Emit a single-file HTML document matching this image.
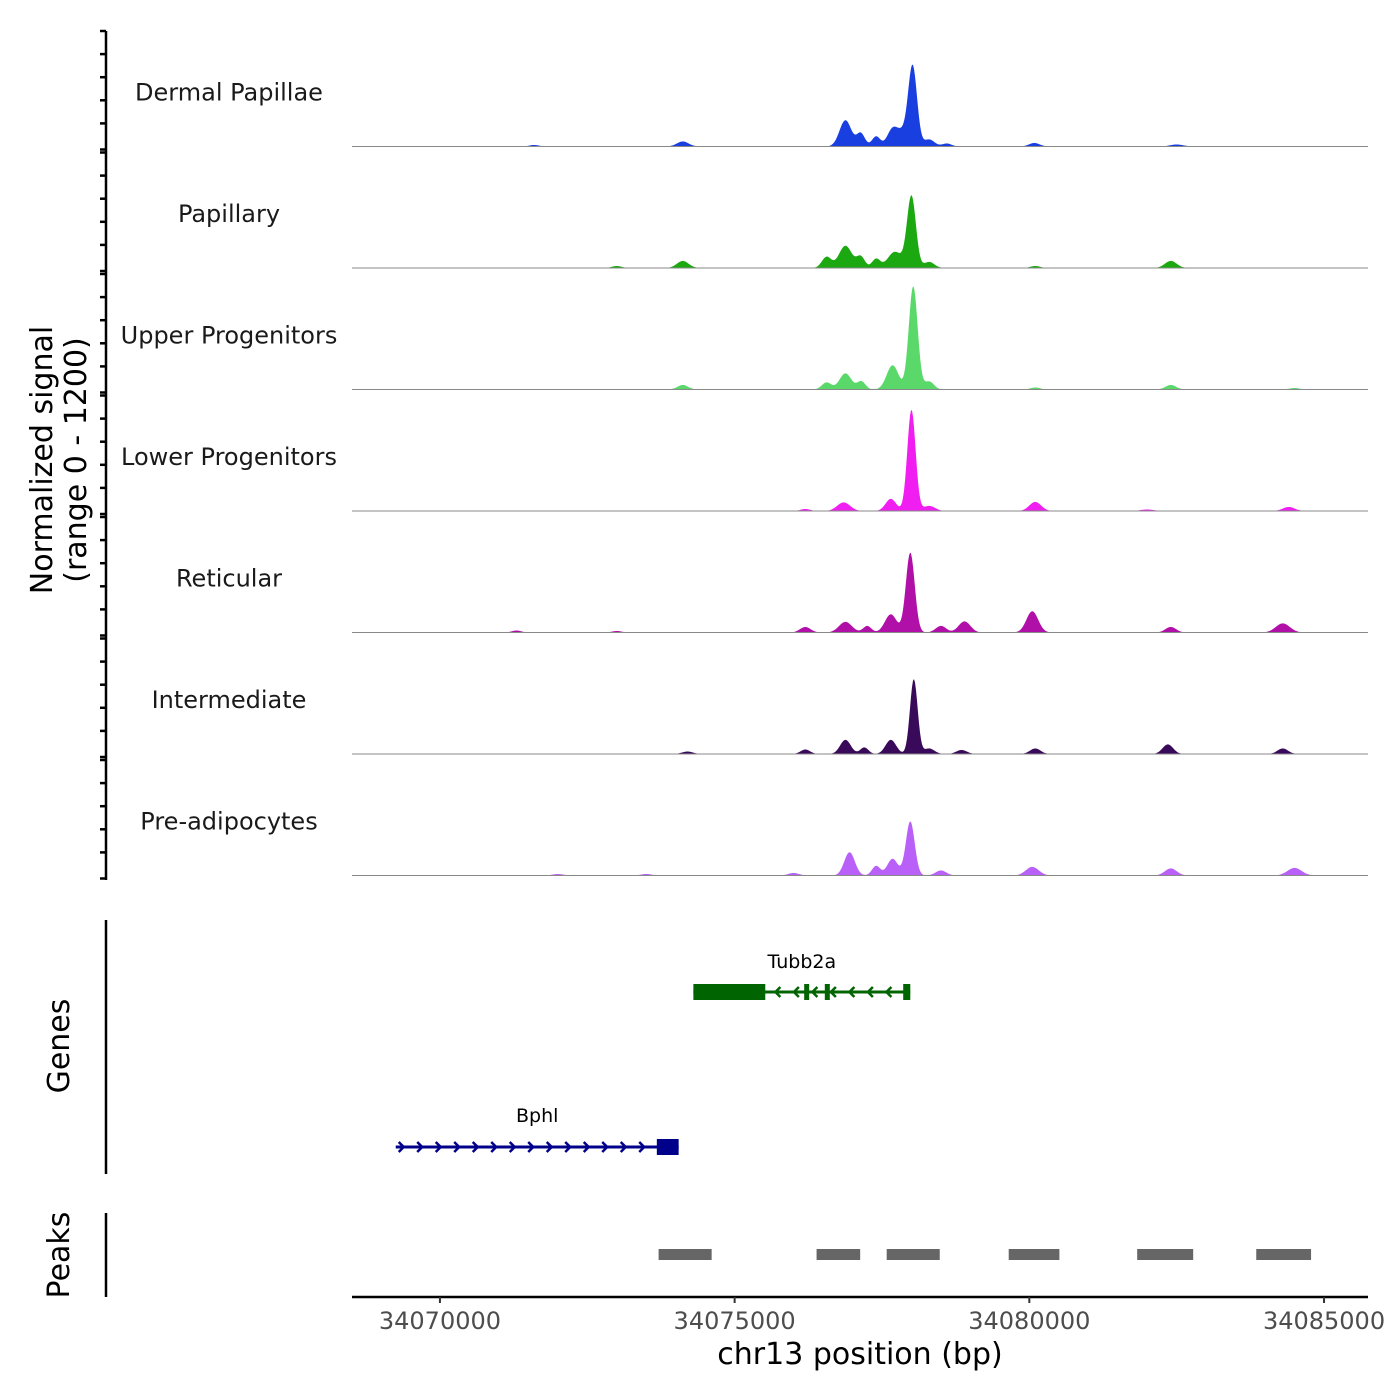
<!DOCTYPE html>
<html><head><meta charset="utf-8"><style>
body{margin:0;background:#fff}
svg{display:block;font-family:"DejaVu Sans","Liberation Sans",sans-serif}
</style></head><body>
<svg id="c" width="1400" height="1400" viewBox="0 0 1400 1400">
<g id="tracks"></g>
<g id="yaxis"></g>
<text x="52" y="460" transform="rotate(-90 52 460)" text-anchor="middle" font-size="30" fill="#000">Normalized signal</text>
<text x="86" y="460" transform="rotate(-90 86 460)" text-anchor="middle" font-size="30" fill="#000">(range 0 - 1200)</text>
<line x1="106" y1="920" x2="106" y2="1174" stroke="#000" stroke-width="2.5"/>
<text x="69" y="1046" transform="rotate(-90 69 1046)" text-anchor="middle" font-size="30">Genes</text>
<g id="genes"></g>
<line x1="106" y1="1213" x2="106" y2="1297" stroke="#000" stroke-width="2.5"/>
<text x="69" y="1255" transform="rotate(-90 69 1255)" text-anchor="middle" font-size="30">Peaks</text>
<g id="peaks"></g>
<g id="xaxis"></g>
<text x="860" y="1364" text-anchor="middle" font-size="30">chr13 position (bp)</text>
</svg>
<script>
const trackNames=["Dermal Papillae","Papillary","Upper Progenitors","Lower Progenitors","Reticular","Intermediate","Pre-adipocytes"];
const trackColors=["#1a3fe0","#1ca810","#5ad86a","#f01ef0","#b010a8","#3a0a5a","#b860f8"];
// peaks per track: [position bp, signal height, sigma bp]
const peaksDermal=[[34078020,790,75],[34076880,260,100],[34077140,130,70],[34077400,100,70],[34077680,170,90],[34077850,120,90],[34074120,50,100],[34078300,70,90],[34078600,30,80],[34080085,35,90],[34071600,15,80],[34082500,20,110]];
const peaksPapillary=[[34078000,710,75],[34076880,220,110],[34076560,110,80],[34077140,110,70],[34077400,90,70],[34077720,160,120],[34078300,60,90],[34074120,70,100],[34082400,70,100],[34073000,20,80],[34080100,20,80]];
const peaksUpper=[[34078030,1020,75],[34077680,240,100],[34076880,160,100],[34076560,70,80],[34077150,80,70],[34078300,80,80],[34074120,45,90],[34082400,45,90],[34080100,20,80],[34084500,15,80]];
const peaksLower=[[34078000,1000,70],[34076850,85,110],[34077650,120,90],[34078300,50,100],[34080100,90,100],[34084400,40,100],[34076200,20,80],[34082000,15,110]];
const peaksReticular=[[34077980,790,75],[34076880,105,110],[34076200,55,90],[34077650,180,100],[34077250,65,70],[34078500,65,90],[34078900,110,100],[34080050,210,100],[34082400,55,90],[34084300,90,120],[34071300,20,80],[34073000,15,80]];
const peaksIntermediate=[[34078040,740,65],[34076880,140,90],[34077650,140,90],[34076200,45,80],[34077200,65,70],[34078300,55,90],[34078850,40,90],[34080100,55,90],[34082350,95,90],[34084300,55,90],[34074200,25,90]];
const peaksPreadip=[[34077980,535,75],[34076950,230,90],[34077400,95,70],[34077680,165,90],[34078500,50,90],[34080050,85,110],[34082400,70,100],[34084500,75,120],[34072000,15,90],[34073500,15,90],[34076000,25,90]];
const trackPeaks=[peaksDermal,peaksPapillary,peaksUpper,peaksLower,peaksReticular,peaksIntermediate,peaksPreadip];
const xTicks=[34070000,34075000,34080000,34085000];
const genes=[{name:"Tubb2a",start:34074300,end:34077980,strand:-1,row:0,exons:[[34074300,34075520],[34076180,34076250],[34076530,34076610],[34077860,34077980]]},
 {name:"Bphl",start:34069250,end:34074050,strand:1,row:1,exons:[[34073680,34074050]]}];
const peakRegions=[[34073710,34074610],[34076390,34077130],[34077580,34078480],[34079650,34080510],[34081830,34082780],[34083850,34084780]];

const NS="http://www.w3.org/2000/svg";
const X0=352,X1=1368,BP0=34068508,BP1=34085746;
const xs=bp=>X0+(bp-BP0)/(BP1-BP0)*(X1-X0);
const TH=121.5,TOP=25;
const ys=(i,v)=>TOP+TH*(i+1)-v/1200*TH;
function mk(tag,attrs,parent){const e=document.createElementNS(NS,tag);for(const k in attrs)e.setAttribute(k,attrs[k]);parent.appendChild(e);return e;}
const tracks=document.getElementById('tracks');
trackNames.forEach((name,i)=>{
  const g=mk('g',{},tracks);
  
  
  let d='M'+X0+' '+ys(i,0);
  for(let px=X0;px<=X1;px+=1){
    const bp=BP0+(px-X0)/(X1-X0)*(BP1-BP0);
    let v=0;trackPeaks[i].forEach(p=>{v+=p[1]*Math.exp(-0.5*Math.pow((bp-p[0])/p[2],2));});
    d+=' L'+px+' '+ys(i,v).toFixed(2);
  }
  d+=' L'+X1+' '+ys(i,0)+' Z';
  const a=mk('path',{d:d,fill:trackColors[i]},g);
  
  
  const bl=mk('line',{x1:X0,x2:X1,y1:ys(i,0),y2:ys(i,0),stroke:'#888','stroke-width':1},g);
  
  
  const t=mk('text',{x:229,y:ys(i,0)-46,'text-anchor':'middle','font-size':24,fill:'#1a1a1a'},g);
  t.textContent=name;
  
  
});
const ya=document.getElementById('yaxis');
mk('line',{x1:106,x2:106,y1:31,y2:880,stroke:'#000','stroke-width':2.5},ya);
for(let i=0;i<7;i++){for(let k=0;k<=5;k++){
  const y=TOP+6+i*TH+k*((TH-6)/5)+(k==5?3:0);
  const tk=mk('line',{x1:100,x2:106,y1:y,y2:y,stroke:'#000','stroke-width':2.5},ya);
  
  }}
const gg=document.getElementById('genes');
const rowY=[992,1147],labY=[968,1122],col={"-1":"#006400","1":"#00008b"};
genes.forEach(gn=>{
  const y=rowY[gn.row],c=col[gn.strand];
  const g=mk('g',{},gg);
  
  
  mk('line',{x1:xs(gn.start),x2:xs(gn.end),y1:y,y2:y,stroke:c,'stroke-width':3},g);
  for(let p=xs(gn.start)+8;p<xs(gn.end)-8;p+=18.5){
    const s=gn.strand*5;
    mk('polyline',{points:(p-s)+','+(y-5)+' '+p+','+y+' '+(p-s)+','+(y+5),fill:'none',stroke:c,'stroke-width':2.5},g);
  }
  gn.exons.forEach(e=>{const r=mk('rect',{x:xs(e[0]),y:y-8,width:Math.max(5,xs(e[1])-xs(e[0])),height:16,fill:c},g);
    
    });
  const t=mk('text',{x:(xs(gn.start)+xs(gn.end))/2,y:labY[gn.row],'text-anchor':'middle','font-size':19},g);
  t.textContent=gn.name;
  
  
});
const pk=document.getElementById('peaks');
peakRegions.forEach(r=>{const e=mk('rect',{x:xs(r[0]),y:1249,width:xs(r[1])-xs(r[0]),height:11,fill:'#666'},pk);
  
  });
const xa=document.getElementById('xaxis');
mk('line',{x1:X0,x2:X1,y1:1297,y2:1297,stroke:'#000','stroke-width':2.5},xa);
xTicks.forEach(t=>{const x=xs(t);
  mk('line',{x1:x,x2:x,y1:1297,y2:1303,stroke:'#333','stroke-width':2},xa);
  const l=mk('text',{x:x,y:1329,'text-anchor':'middle','font-size':24,fill:'#4d4d4d'},xa);
  l.textContent=t;
  
  });
</script>
</body></html>
